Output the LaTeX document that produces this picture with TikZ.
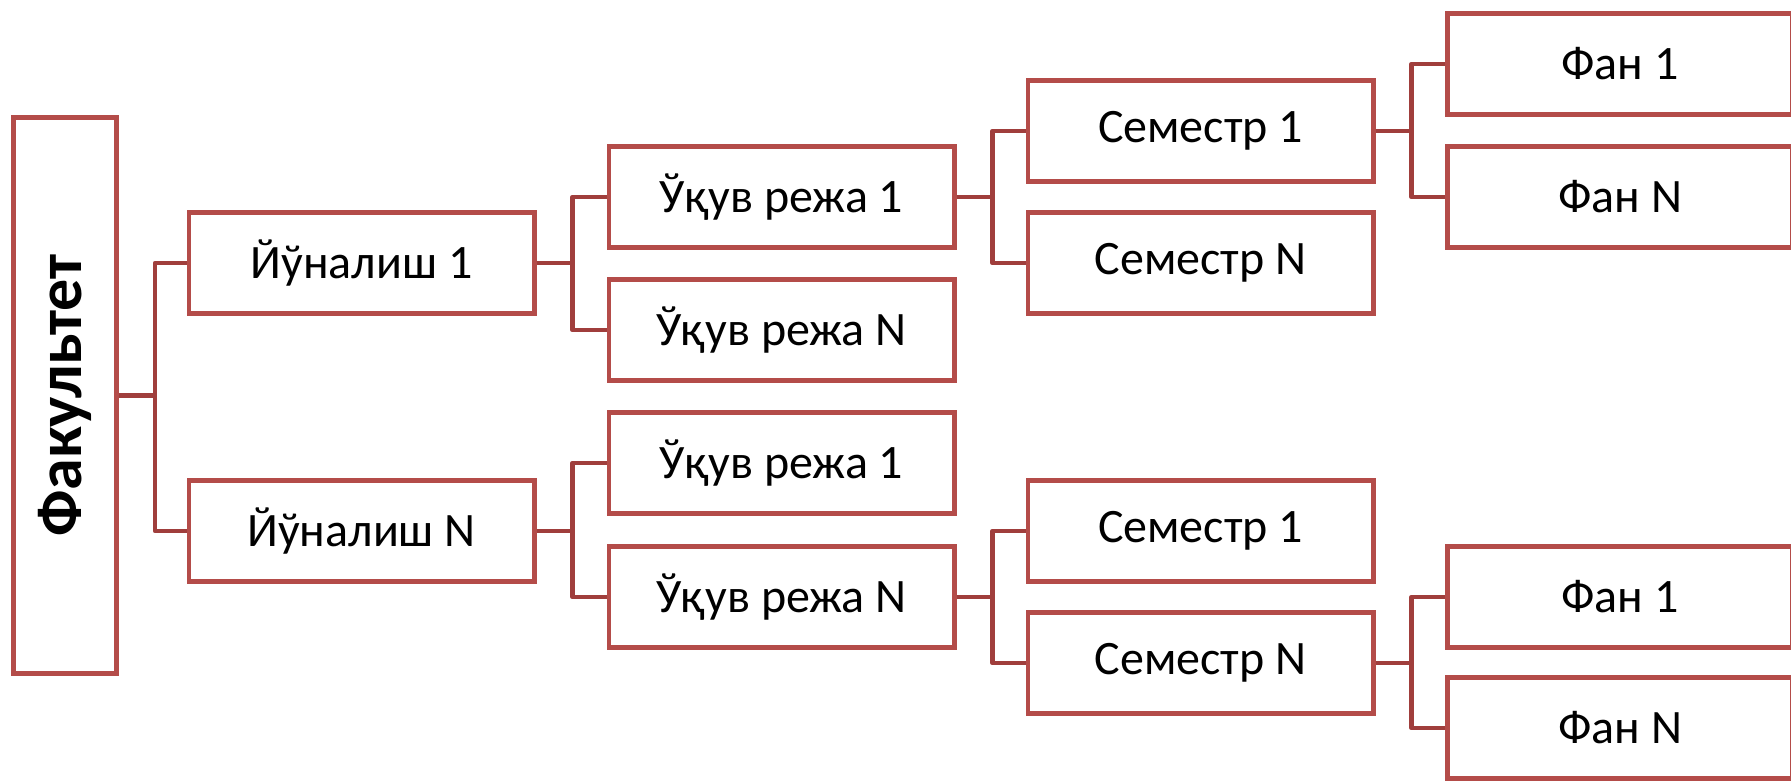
\documentclass[tikz,border=0pt]{standalone}
\usepackage{fontspec}
\setmainfont{Carlito}
\definecolor{boxred}{RGB}{180,76,73}
\definecolor{linkred}{RGB}{160,62,60}
\tikzset{   main/.style = {rectangle, draw = boxred, line width = 2.4pt, fill = white, minimum width = 172.6pt, minimum height = 50.6pt, inner sep = 0pt, font = \fontsize{24}{28}\selectfont},
            head/.style = {rectangle, draw = boxred, line width = 2.4pt, fill = white, minimum width = 51.6pt, minimum height = 278pt, inner sep = 0pt},
            link/.style = {draw = linkred, line width = 2.4pt, line join = round}}

\begin{document}
\begin{tikzpicture}[x=0.5pt, y=-0.5pt]
                        \clip (0,0) rectangle (1791,783);
                        \fill[white] (0,0) rectangle (1791,783);
                        % faculty
                        \node[head] (fak) at (65,395.5) {};
                        \node[rotate=90, font=\fontsize{32}{36}\selectfont\bfseries] at (fak.center) {Факультет};
                        % directions
                        \node[main] (yo1) at (361.5,263) {Йўналиш 1};
                        \node[main] (yoN) at (361.5,531) {Йўналиш N};
                        % study plans
                        \node[main] (re11) at (781.5,197) {Ўқув режа 1};
                        \node[main] (re1N) at (781.5,330) {Ўқув режа N};
                        \node[main] (reN1) at (781.5,463) {Ўқув режа 1};
                        \node[main] (reNN) at (781.5,597) {Ўқув режа N};
                        % semesters
                        \node[main] (se11) at (1200.5,131) {Семестр 1};
                        \node[main] (se1N) at (1200.5,263) {Семестр N};
                        \node[main] (seN1) at (1200.5,531) {Семестр 1};
                        \node[main] (seNN) at (1200.5,663) {Семестр N};
                        % subjects
                        \node[main] (fa11) at (1620,64) {Фан 1};
                        \node[main] (fa1N) at (1620,197) {Фан N};
                        \node[main] (faN1) at (1620,597) {Фан 1};
                        \node[main] (faNN) at (1620,728) {Фан N};
                        % connectors
                        \foreach \p/\c in {fak/yo1, fak/yoN, yo1/re11, yo1/re1N, yoN/reN1, yoN/reNN,
                                           re11/se11, re11/se1N, reNN/seN1, reNN/seNN,
                                           se11/fa11, se11/fa1N, seNN/faN1, seNN/faNN}
                          \draw[link] (\p.east) -- ++(18pt,0) |- (\c.west);
                      \end{tikzpicture}
\end{document}
